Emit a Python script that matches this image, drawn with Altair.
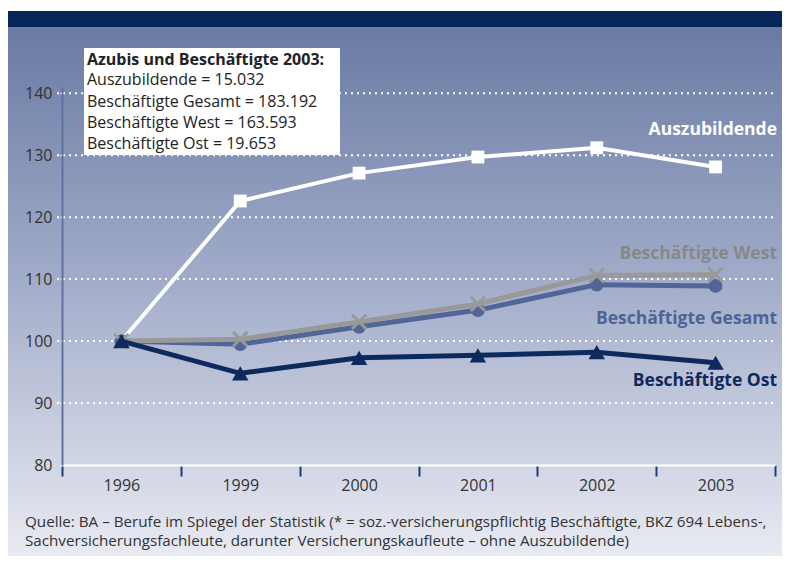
import altair as alt
import pandas as pd

years = ["1996", "1999", "2000", "2001", "2002", "2003"]
azubis = [100, 122.6, 127.1, 129.7, 131.2, 128.1]
gesamt = [100, 99.5, 102.3, 105.0, 109.1, 108.9]
west = [100, 100.3, 103.1, 106.0, 110.6, 110.7]
ost = [100, 94.8, 97.3, 97.7, 98.2, 96.5]
grid_values = [90, 100, 110, 120, 130, 140]

info_lines = [
    "Azubis und Beschäftigte 2003:",
    "Auszubildende = 15.032",
    "Beschäftigte Gesamt = 183.192",
    "Beschäftigte West = 163.593",
    "Beschäftigte Ost = 19.653",
]
source_lines = [
    "Quelle: BA – Berufe im Spiegel der Statistik (* = soz.-versicherungspflichtig Beschäftigte, BKZ 694 Lebens-,",
    "Sachversicherungsfachleute, darunter Versicherungskaufleute – ohne Auszubildende)",
]

FONT = "Open Sans"
C_AZ = "#ffffff"
C_GE = "#4f6697"
C_WE = "#999999"
C_OS = "#0c2a5e"

def frame(vals):
    return pd.DataFrame({"year": years, "value": vals})

xaxis = alt.Axis(title=None, tickBand="extent", grid=False, zindex=1, labelAngle=0,
                 domainColor="white", domainWidth=2,
                 tickColor="#1f3f7a", tickWidth=2, tickSize=11,
                 labelFontSize=16, labelColor="#333333", labelFont=FONT,
                 labelPadding=1)
xenc = alt.X("year:N", sort=years, bandPosition=0.5,
             scale=alt.Scale(type="band", paddingInner=0, paddingOuter=0),
             axis=xaxis)
yscale = alt.Scale(domain=[80, 141], nice=False, zero=False)
yaxis = alt.Axis(title=None, values=[80, 90, 100, 110, 120, 130, 140],
                 grid=False, zindex=1,
                 domainColor="#5f729f", domainWidth=2,
                 ticks=True, tickColor="white", tickWidth=2, tickSize=5,
                 tickDash=[2, 3],
                 labelFontSize=16, labelColor="#333333", labelFont=FONT,
                 labelPadding=5)
yenc = alt.Y("value:Q", scale=yscale, axis=yaxis)

one = alt.Data(values=[{}])

bg = alt.Chart(one).mark_rect(
    color=alt.LinearGradient(gradient="linear", x1=0, x2=0, y1=0, y2=1,
                             stops=[alt.GradientStop(offset=0, color="#6677a1"),
                                    alt.GradientStop(offset=0.5, color="#a3adca"),
                                    alt.GradientStop(offset=1, color="#e9ebf3")])
).encode(x=alt.value(-54), x2=alt.value(720), y=alt.value(-76), y2=alt.value(471))

band = alt.Chart(one).mark_rect(color="#062659").encode(
    x=alt.value(-54), x2=alt.value(720), y=alt.value(-76), y2=alt.value(-60))

grid = alt.Chart(pd.DataFrame({"value": grid_values})).mark_rule(
    color="white", strokeWidth=2, strokeDash=[2, 4]
).encode(y=yenc, x=alt.value(-5), x2=alt.value(713))

box = alt.Chart(one).mark_rect(color="white").encode(
    x=alt.value(22), x2=alt.value(278), y=alt.value(-39), y2=alt.value(68))

layers = [bg, band, grid]

def series(vals, color, width, shape, size, filled, stroke_w=None):
    d = frame(vals)
    line = alt.Chart(d).mark_line(color=color, strokeWidth=width).encode(x=xenc, y=yenc)
    if filled:
        pt = alt.Chart(d).mark_point(shape=shape, size=size, filled=True, color=color,
                                     opacity=1).encode(x=xenc, y=yenc)
    else:
        pt = alt.Chart(d).mark_point(shape=shape, size=size, filled=False, color=color,
                                     strokeWidth=stroke_w, opacity=1).encode(x=xenc, y=yenc)
    return [line, pt]

layers += series(azubis, C_AZ, 4, "square", 165, True)
layers += series(gesamt, C_GE, 5, "circle", 190, True)
layers += series(west, C_WE, 5, "M-1,-1L1,1M-1,1L1,-1", 200, False, 3)
layers += series(ost, C_OS, 5, "triangle-up", 270, True)

layers.append(box)

info_y = [-27, -7, 15, 36, 57]
for i, (t, yy) in enumerate(zip(info_lines, info_y)):
    layers.append(alt.Chart(one).mark_text(
        text=t, align="left", baseline="middle", font=FONT, fontSize=16,
        fontWeight="bold" if i == 0 else "normal", color="#222222"
    ).encode(x=alt.value(25), y=alt.value(yy)))

labels = [("Auszubildende", 43, "#ffffff"),
          ("Beschäftigte West", 167, "#888888"),
          ("Beschäftigte Gesamt", 232, "#4c6496"),
          ("Beschäftigte Ost", 294, "#0c2a5e")]
for t, yy, c in labels:
    layers.append(alt.Chart(one).mark_text(
        text=t, align="right", baseline="middle", font=FONT, fontSize=17.5,
        fontWeight="bold", color=c
    ).encode(x=alt.value(715), y=alt.value(yy)))

for t, yy in zip(source_lines, [435, 454]):
    layers.append(alt.Chart(one).mark_text(
        text=t, align="left", baseline="middle", font=FONT, fontSize=15.2,
        color="#333333"
    ).encode(x=alt.value(-37), y=alt.value(yy)))

chart = alt.layer(*layers).properties(
    width=713, height=378,
    autosize=alt.AutoSizeParams(type="none"),
    padding={"left": 54, "top": 79, "right": 7, "bottom": 91},
    background="white",
).configure_view(stroke=None)

chart.save("out.html", embed_options={"renderer": "svg", "actions": False})
